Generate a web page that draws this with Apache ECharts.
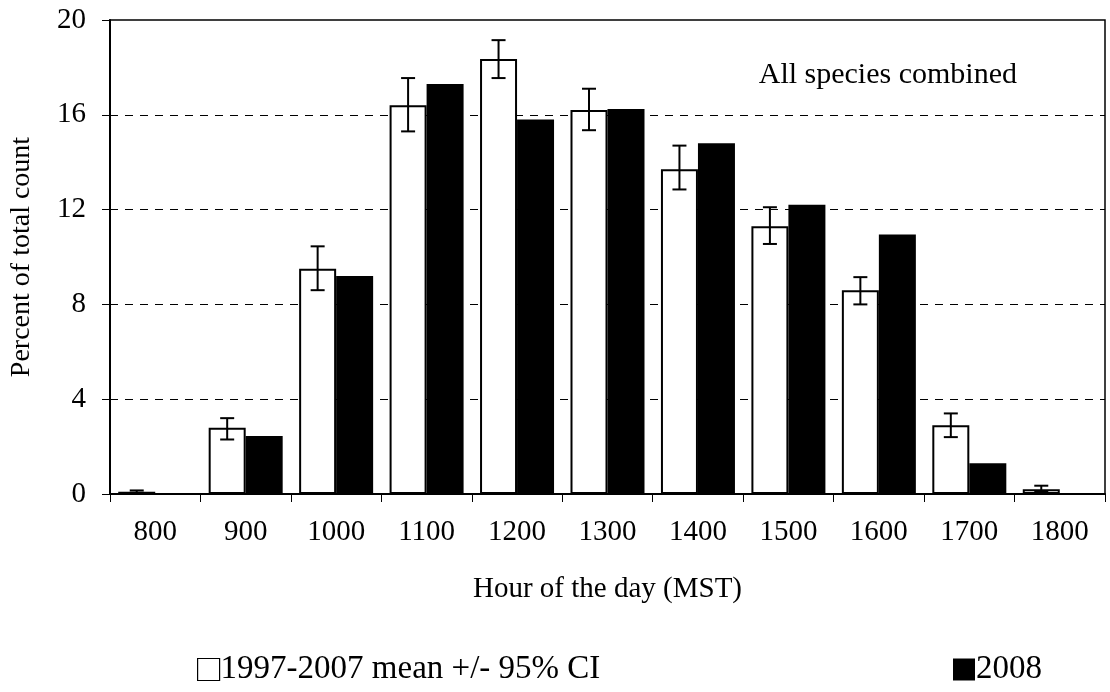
<!DOCTYPE html>
<html>
<head>
<meta charset="utf-8">
<script src="https://cdn.jsdelivr.net/npm/echarts@6/dist/echarts.min.js"></script>
<style>
  html, body { margin: 0; padding: 0; background: #fff; }
  #chart { width: 1110px; height: 692px; }
</style>
</head>
<body>
<div id="chart"></div>
<script>
// hour categories
var hours = ['800', '900', '1000', '1100', '1200', '1300', '1400', '1500', '1600', '1700', '1800']
// 1997-2007 mean and its 95% CI
var meanValues = [0.1, 2.8, 9.5, 16.4, 18.35, 16.2, 13.7, 11.3, 8.6, 2.9, 0.2]
var ciLow = [0.05, 2.3, 8.6, 15.3, 17.55, 15.35, 12.85, 10.55, 8.0, 2.4, 0.1]
var ciHigh = [0.15, 3.2, 10.45, 17.55, 19.15, 17.1, 14.7, 12.1, 9.15, 3.4, 0.35]
// 2008
var values2008 = [0, 2.45, 9.2, 17.3, 15.8, 16.25, 14.8, 12.2, 10.95, 1.3, 0]

var yTicks = [0, 4, 8, 12, 16, 20]

var font = 'Liberation Serif'
var chart = echarts.init(document.getElementById('chart'))

var ciData = hours.map(function (h, i) {
  return [i, ciLow[i], ciHigh[i]]
})

chart.setOption({
  animation: false,
  textStyle: { fontFamily: font, color: '#000' },
  title: {
    text: 'All species combined',
    right: 88,
    top: 55,
    textStyle: { fontFamily: font, fontSize: 30, fontWeight: 'normal', color: '#000' }
  },
  legend: [{
    left: 192,
    top: 648,
    icon: 'rect',
    itemWidth: 22,
    itemHeight: 22,
    itemGap: 0,
    selectedMode: false,
    data: [{ name: '1997-2007 mean +/- 95% CI', itemStyle: { color: '#fff', borderColor: '#000', borderWidth: 1.2 } }],
    textStyle: { fontFamily: font, fontSize: 33, color: '#000', padding: [0, 0, 0, -4] }
  }, {
    left: 948,
    top: 648,
    icon: 'rect',
    itemWidth: 22,
    itemHeight: 22,
    selectedMode: false,
    data: ['2008'],
    textStyle: { fontFamily: font, fontSize: 33, color: '#000', padding: [0, 0, 0, -4] }
  }],
  grid: {
    left: 106,
    right: 5,
    top: 20,
    bottom: 198,
    show: true,
    borderColor: '#000',
    borderWidth: 1.5
  },
  xAxis: {
    type: 'category',
    data: hours,
    name: 'Hour of the day (MST)',
    nameLocation: 'middle',
    nameGap: 81,
    nameTextStyle: { fontFamily: font, fontSize: 29, color: '#000' },
    axisLine: { lineStyle: { color: '#000', width: 2 } },
    axisTick: { show: true, length: 8, lineStyle: { color: '#000', width: 1 } },
    axisLabel: { fontFamily: font, fontSize: 29, color: '#000', margin: 24 }
  },
  yAxis: {
    type: 'value',
    min: 0,
    max: 20,
    interval: 4,
    name: 'Percent of total count',
    nameLocation: 'middle',
    nameGap: 74,
    nameTextStyle: { fontFamily: font, fontSize: 28, color: '#000' },
    axisLine: { show: true, lineStyle: { color: '#000', width: 2 } },
    axisTick: { show: true, length: 8, lineStyle: { color: '#000', width: 1 } },
    axisLabel: {
      fontFamily: font, fontSize: 29, color: '#000', margin: 24,
      formatter: function (v) { return yTicks.indexOf(v) >= 0 ? String(v) : '' }
    },
    splitLine: {
      show: true,
      showMinLine: false,
      showMaxLine: false,
      lineStyle: { color: '#000', width: 1, type: [8, 7] }
    }
  },
  series: [{
    name: '1997-2007 mean +/- 95% CI',
    type: 'bar',
    barWidth: 37,
    barGap: '0%',
    data: meanValues,
    itemStyle: { color: '#fff', borderColor: '#000', borderWidth: 2 },
    z: 2
  }, {
    name: '2008',
    type: 'bar',
    barWidth: 37,
    barGap: '0%',
    data: values2008,
    itemStyle: { color: '#000' },
    z: 2
  }, {
    name: 'ci',
    type: 'custom',
    data: ciData,
    z: 5,
    renderItem: function (params, api) {
      var idx = api.value(0)
      var top = api.coord([idx, api.value(2)])
      var bot = api.coord([idx, api.value(1)])
      var x = top[0] - 18.5
      var half = 7
      var style = { stroke: '#000', lineWidth: 2 }
      return {
        type: 'group',
        children: [
          { type: 'line', shape: { x1: x, y1: top[1], x2: x, y2: bot[1] }, style: style },
          { type: 'line', shape: { x1: x - half, y1: top[1], x2: x + half, y2: top[1] }, style: style },
          { type: 'line', shape: { x1: x - half, y1: bot[1], x2: x + half, y2: bot[1] }, style: style }
        ]
      }
    }
  }]
})
</script>
</body>
</html>
